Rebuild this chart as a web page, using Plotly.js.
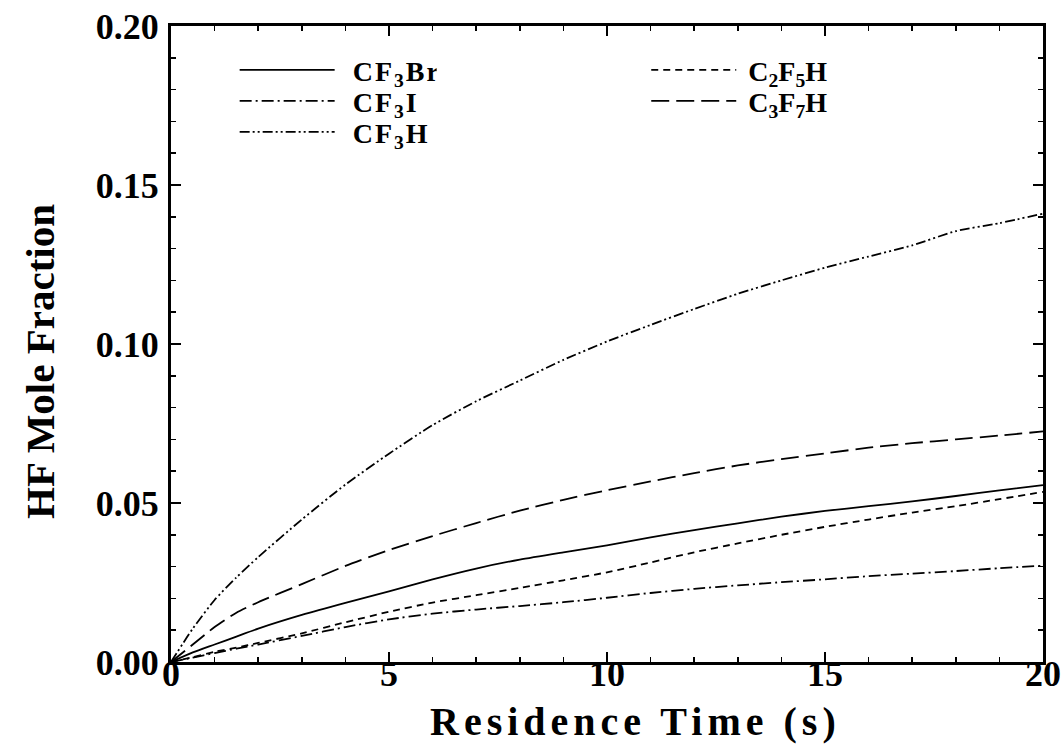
<!DOCTYPE html>
<html>
<head>
<meta charset="utf-8">
<script src="https://cdn.plot.ly/plotly-3.0.1.min.js"></script>
<style>
  html, body { margin: 0; padding: 0; background: #fff; }
  #chart { width: 1063px; height: 748px; }
</style>
</head>
<body>
<div id="chart"></div>
<script>
// Residence time (s)
const time = [0, 0.5, 1, 1.5, 2, 3, 4, 5, 6, 7, 8, 9, 10, 11, 12, 13, 14, 15, 16, 17, 18, 19, 20];

// HF mole fraction for each suppressant
const cf3br = [0, 0.0030, 0.0055, 0.0080, 0.0105, 0.0148, 0.0186, 0.0222, 0.0260, 0.0294, 0.0322, 0.0345, 0.0367, 0.0392, 0.0415, 0.0436, 0.0457, 0.0475, 0.0490, 0.0505, 0.0522, 0.0540, 0.0556];
const cf3i  = [0, 0.0014, 0.0028, 0.0042, 0.0055, 0.0082, 0.0110, 0.0134, 0.0152, 0.0165, 0.0176, 0.0188, 0.0202, 0.0217, 0.0230, 0.0241, 0.0251, 0.0260, 0.0270, 0.0278, 0.0286, 0.0295, 0.0303];
const cf3h  = [0, 0.0105, 0.0195, 0.0266, 0.0330, 0.0448, 0.0558, 0.0655, 0.0745, 0.0820, 0.0885, 0.0950, 0.1008, 0.1060, 0.1110, 0.1158, 0.1200, 0.1240, 0.1275, 0.1310, 0.1355, 0.1380, 0.1410];
const c2f5h = [0, 0.0015, 0.0032, 0.0045, 0.0060, 0.0090, 0.0125, 0.0158, 0.0187, 0.0210, 0.0233, 0.0257, 0.0282, 0.0313, 0.0345, 0.0373, 0.0400, 0.0425, 0.0448, 0.0470, 0.0490, 0.0512, 0.0535];
const c3f7h = [0, 0.0055, 0.0110, 0.0155, 0.0188, 0.0245, 0.0302, 0.0352, 0.0396, 0.0437, 0.0476, 0.0510, 0.0540, 0.0568, 0.0594, 0.0618, 0.0638, 0.0656, 0.0674, 0.0688, 0.0700, 0.0712, 0.0725];

const seriesNames = ['CF<sub>3</sub>Br', 'CF<sub>3</sub>I', 'CF<sub>3</sub>H', 'C<sub>2</sub>F<sub>5</sub>H', 'C<sub>3</sub>F<sub>7</sub>H'];
const xTickVals = [0, 5, 10, 15, 20];
const yTickVals = [0, 0.05, 0.10, 0.15, 0.20];
const xTitle = 'Residence Time (s)';
const yTitle = 'HF Mole Fraction';

const serif = 'Liberation Serif, Times New Roman, serif';

function tr(y, name, dash, legend) {
  return {
    x: time, y: y, name: name, type: 'scatter', mode: 'lines',
    line: { color: '#000', width: 1.8, dash: dash, shape: 'spline', smoothing: 0.6 },
    legend: legend
  };
}

const data = [
  tr(cf3br, seriesNames[0], 'solid', 'legend'),
  tr(cf3i,  seriesNames[1], '12px,4px,2px,4px', 'legend'),
  tr(cf3h,  seriesNames[2], '10px,3px,2px,3px,2px,3px', 'legend'),
  tr(c2f5h, seriesNames[3], '7px,5px', 'legend2'),
  tr(c3f7h, seriesNames[4], '18px,7px', 'legend2')
];

const axisCommon = {
  showgrid: false, zeroline: false,
  showline: true, linecolor: '#000', linewidth: 3,
  mirror: 'allticks',
  ticks: 'inside', ticklen: 10, tickwidth: 2, tickcolor: '#000',
  tickfont: { family: serif, size: 36, color: '#000', weight: 'bold' }
};

const legendCommon = {
  bgcolor: 'rgba(0,0,0,0)', borderwidth: 0,
  font: { family: serif, size: 28, color: '#000', weight: 'bold' },
  xanchor: 'left', yanchor: 'top',
  tracegroupgap: 0
};

const titleFont = { family: serif, color: '#000', weight: 'bold' };

const layout = {
  width: 1063, height: 748,
  margin: { l: 171, r: 20, t: 26, b: 86 },
  paper_bgcolor: '#fff', plot_bgcolor: '#fff',
  font: { family: serif, color: '#000' },
  xaxis: Object.assign({}, axisCommon, {
    range: [0, 20], tickvals: xTickVals, ticktext: xTickVals.map(String),
    minor: { dtick: 1, ticks: 'inside', ticklen: 5, tickwidth: 1.5, tickcolor: '#000' },
    ticklabelstandoff: -22
  }),
  yaxis: Object.assign({}, axisCommon, {
    range: [0, 0.20], tickvals: yTickVals, ticktext: yTickVals.map(v => v.toFixed(2)),
    minor: { dtick: 0.01, ticks: 'inside', ticklen: 5, tickwidth: 1.5, tickcolor: '#000' },
    ticklabelstandoff: 2
  }),
  annotations: [
    { text: xTitle, xref: 'paper', yref: 'paper', x: 0.533, y: -0.0943,
      xanchor: 'center', yanchor: 'middle', showarrow: false,
      font: Object.assign({ size: 40 }, titleFont) },
    { text: yTitle, xref: 'paper', yref: 'paper', x: -0.150, y: 0.472,
      xanchor: 'center', yanchor: 'middle', showarrow: false, textangle: -90,
      font: Object.assign({ size: 41 }, titleFont) }
  ],
  showlegend: true,
  legend: Object.assign({}, legendCommon, { x: 0.073, y: 0.97, itemwidth: 108 }),
  legend2: Object.assign({}, legendCommon, { x: 0.545, y: 0.97, itemwidth: 92 })
};

const legendLineLen = { legend: 95, legend2: 85 };
const legendRowGap = 31;

Plotly.newPlot('chart', data, layout, { staticPlot: true, displayModeBar: false }).then(function (gd) {
  // match the original key: longer sample lines, tighter rows, spaced lettering
  Object.keys(legendLineLen).forEach(function (id) {
    const g = gd.querySelector('g.' + id);
    if (!g) return;
    g.querySelectorAll('.legendlines path').forEach(function (p) {
      p.setAttribute('d', 'M5,0h' + legendLineLen[id]);
    });
    g.querySelectorAll('text.legendtext').forEach(function (t) {
      t.style.letterSpacing = '2px';
    });
    const items = g.querySelectorAll('g.traces');
    let x0 = null, y0 = null;
    items.forEach(function (it, i) {
      const m = /translate\(\s*([-\d.]+)[ ,]+([-\d.]+)\s*\)/.exec(it.getAttribute('transform') || '');
      if (!m) return;
      if (x0 === null) { x0 = parseFloat(m[1]); y0 = parseFloat(m[2]); }
      it.setAttribute('transform', 'translate(' + x0 + ',' + (y0 + i * legendRowGap) + ')');
    });
  });
  // spaced lettering of the x title, as in the original
  gd.querySelectorAll('.annotation-text').forEach(function (t) {
    if (t.textContent === xTitle) t.style.letterSpacing = '5px';
  });
});
</script>
</body>
</html>
